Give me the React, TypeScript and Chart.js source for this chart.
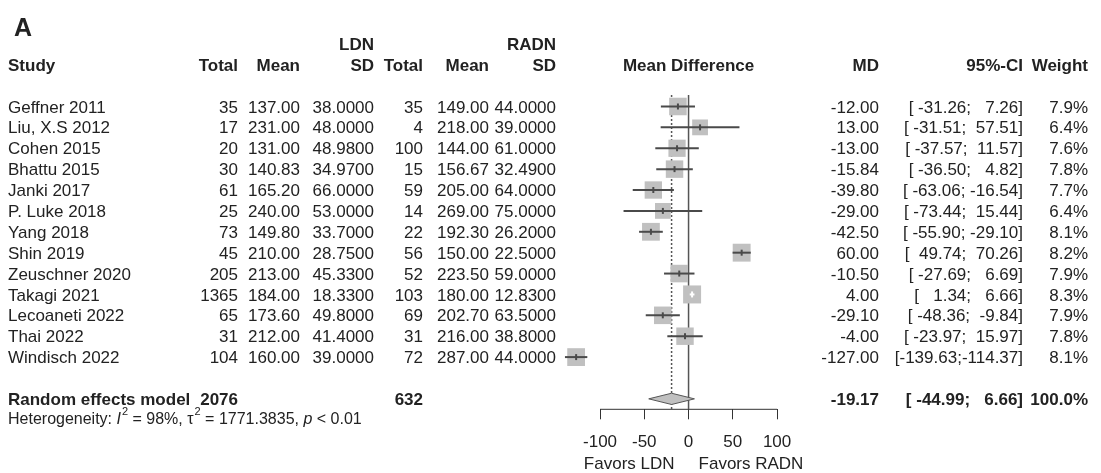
import { useEffect, useRef } from 'react';
import { Chart, registerables } from 'chart.js';

Chart.register(...registerables);

// ---------- data ----------
const studies = [
  'Geffner 2011', 'Liu, X.S 2012', 'Cohen 2015', 'Bhattu 2015', 'Janki 2017', 'P. Luke 2018',
  'Yang 2018', 'Shin 2019', 'Zeuschner 2020', 'Takagi 2021', 'Lecoaneti 2022', 'Thai 2022', 'Windisch 2022',
];
const ldnTotal = [35, 17, 20, 30, 61, 25, 73, 45, 205, 1365, 65, 31, 104];
const ldnMean = [137.0, 231.0, 131.0, 140.83, 165.2, 240.0, 149.8, 210.0, 213.0, 184.0, 173.6, 212.0, 160.0];
const ldnSD = [38.0, 48.0, 48.98, 34.97, 66.0, 53.0, 33.7, 28.75, 45.33, 18.33, 49.8, 41.4, 39.0];
const radnTotal = [35, 4, 100, 15, 59, 14, 22, 56, 52, 103, 69, 31, 72];
const radnMean = [149.0, 218.0, 144.0, 156.67, 205.0, 269.0, 192.3, 150.0, 223.5, 180.0, 202.7, 216.0, 287.0];
const radnSD = [44.0, 39.0, 61.0, 32.49, 64.0, 75.0, 26.2, 22.5, 59.0, 12.83, 63.5, 38.8, 44.0];
const md = [-12.0, 13.0, -13.0, -15.84, -39.8, -29.0, -42.5, 60.0, -10.5, 4.0, -29.1, -4.0, -127.0];
const ciLow = [-31.26, -31.51, -37.57, -36.5, -63.06, -73.44, -55.9, 49.74, -27.69, 1.34, -48.36, -23.97, -139.63];
const ciHigh = [7.26, 57.51, 11.57, 4.82, -16.54, 15.44, -29.1, 70.26, 6.69, 6.66, -9.84, 15.97, -114.37];
const weight = [7.9, 6.4, 7.6, 7.8, 7.7, 6.4, 8.1, 8.2, 7.9, 8.3, 7.9, 7.8, 8.1];

const summaryLabel = 'Random effects model';
const summaryTotals = [2076, 632];
const summaryMD = -19.17;
const summaryLow = -44.99;
const summaryHigh = 6.66;
const summaryWeight = 100.0;
const hetI2 = '98%';
const hetTau2 = '1771.3835';
const hetP = '< 0.01';

const groupLabels = ['LDN', 'RADN'];
const columnHeaders = ['Total', 'Mean', 'SD', 'Total', 'Mean', 'SD'];
const axisTicks = [-100, -50, 0, 50, 100];
const favorLabels = ['Favors LDN', 'Favors RADN'];
const panelLetter = 'A';

// ---------- layout / style ----------
const FONT = "'Liberation Sans', Arial, Helvetica, sans-serif";
const TEXT = '#222';
const DARK = '#4a4a4a';
const BOX = '#c0c0c0';
const FS = 17;
const SUMMARY_ROW = studies.length + 1;
const Y_MIN = -0.55;
const Y_MAX = 14.5;
const X_MIN = -145;
const X_MAX = 125;
const leftCols = [238, 300, 374, 423, 489, 556];
const MD_X = 879;
const CI_X = 1023;
const W_X = 1088;
const BOX_MAX = 18;

const maxW = Math.max(...weight);
const boxSide = (i: number) => BOX_MAX * Math.sqrt(weight[i] / maxW);
const fmtCI = (lo: number, hi: number) => `[${lo.toFixed(2).padStart(7)};${hi.toFixed(2).padStart(7)}]`;

const ciInside = (chart: any, i: number) => {
  const xs = chart.scales.x;
  if (!xs) return false;
  return xs.getPixelForValue(ciHigh[i]) - xs.getPixelForValue(ciLow[i]) < boxSide(i);
};

const tablePlugin = {
  id: 'forestTable',
  afterDraw(chart: any) {
    const ctx = chart.ctx as CanvasRenderingContext2D;
    const ys = chart.scales.y;
    const xs = chart.scales.x;
    const rowY = (i: number) => ys.getPixelForValue(i);
    ctx.save();
    ctx.fillStyle = TEXT;
    const txt = (s: string, x: number, yc: number, align: CanvasTextAlign, bold = false, size = FS, italic = false) => {
      ctx.font = `${italic ? 'italic ' : ''}${bold ? 'bold ' : ''}${size}px ${FONT}`;
      ctx.textAlign = align;
      ctx.textBaseline = 'alphabetic';
      ctx.fillText(s, x, yc + size * 0.358);
      return ctx.measureText(s).width;
    };

    // panel letter
    txt(panelLetter, 14, rowY(-3.8), 'left', true, 25);

    // group labels
    txt(groupLabels[0], leftCols[2], rowY(-3), 'right', true);
    txt(groupLabels[1], leftCols[5], rowY(-3), 'right', true);

    // column headers
    const hy = rowY(-2);
    txt('Study', 8, hy, 'left', true);
    columnHeaders.forEach((h, k) => txt(h, leftCols[k], hy, 'right', true));
    txt('Mean Difference', xs.getPixelForValue(0), hy, 'center', true);
    txt('MD', MD_X, hy, 'right', true);
    txt('95%-CI', CI_X, hy, 'right', true);
    txt('Weight', W_X, hy, 'right', true);

    // study rows
    studies.forEach((s, i) => {
      const y = rowY(i);
      txt(s, 8, y, 'left');
      txt(String(ldnTotal[i]), leftCols[0], y, 'right');
      txt(ldnMean[i].toFixed(2), leftCols[1], y, 'right');
      txt(ldnSD[i].toFixed(4), leftCols[2], y, 'right');
      txt(String(radnTotal[i]), leftCols[3], y, 'right');
      txt(radnMean[i].toFixed(2), leftCols[4], y, 'right');
      txt(radnSD[i].toFixed(4), leftCols[5], y, 'right');
      txt(md[i].toFixed(2), MD_X, y, 'right');
      txt(fmtCI(ciLow[i], ciHigh[i]), CI_X, y, 'right');
      txt(`${weight[i].toFixed(1)}%`, W_X, y, 'right');
    });

    // summary row
    const sy = rowY(SUMMARY_ROW);
    txt(summaryLabel, 8, sy, 'left', true);
    txt(String(summaryTotals[0]), leftCols[0], sy, 'right', true);
    txt(String(summaryTotals[1]), leftCols[3], sy, 'right', true);
    txt(summaryMD.toFixed(2), MD_X, sy, 'right', true);
    txt(fmtCI(summaryLow, summaryHigh), CI_X, sy, 'right', true);
    txt(`${summaryWeight.toFixed(1)}%`, W_X, sy, 'right', true);

    // heterogeneity
    const hy2 = rowY(SUMMARY_ROW + 0.93);
    const HS = 16;
    const SUP = 11;
    let x = 8;
    x += txt('Heterogeneity: ', x, hy2, 'left', false, HS);
    x += txt('I', x, hy2, 'left', false, HS, true);
    x += txt('2', x + 1, hy2 - 7, 'left', false, SUP) + 1;
    x += txt(` = ${hetI2}, `, x, hy2, 'left', false, HS);
    x += txt('\u03C4', x, hy2, 'left', false, HS);
    x += txt('2', x + 1, hy2 - 7, 'left', false, SUP) + 1;
    x += txt(` = ${hetTau2}, `, x, hy2, 'left', false, HS);
    x += txt('p', x, hy2, 'left', false, HS, true);
    txt(` ${hetP}`, x, hy2, 'left', false, HS);

    // favors labels
    const fy = 463;
    const x0 = xs.getPixelForValue(0);
    txt(favorLabels[0], x0 - 14, fy, 'right');
    txt(favorLabels[1], x0 + 10, fy, 'left');
    ctx.restore();
  },
};

export default function App() {
  const ref = useRef<HTMLCanvasElement | null>(null);

  useEffect(() => {
    document.body.style.margin = '0';
    if (!ref.current) return;

    const rows = studies.map((_, i) => i);

    const marks = {
      type: 'scatter',
      data: md.map((m, i) => ({ x: m, y: i })),
      pointStyle: 'line',
      rotation: 90,
      pointRadius: 3,
      pointBorderWidth: 2,
      pointBorderColor: (c: any) => (ciInside(c.chart, c.dataIndex) ? '#ffffff' : DARK),
      clip: false,
    };

    const ciLines = rows.map((i) => ({
      type: 'line',
      data: [{ x: ciLow[i], y: i }, { x: ciHigh[i], y: i }],
      borderColor: (c: any) => (ciInside(c.chart, i) ? '#ffffff' : DARK),
      borderWidth: 2,
      pointRadius: 0,
      fill: false,
      clip: false,
    }));

    const boxes = {
      type: 'scatter',
      data: md.map((m, i) => ({ x: m, y: i })),
      pointStyle: 'rect',
      pointRadius: (c: any) => boxSide(c.dataIndex) / (2 * Math.SQRT1_2),
      pointBackgroundColor: BOX,
      pointBorderWidth: 0,
      pointBorderColor: BOX,
      clip: false,
    };

    const dh = 0.27;
    const diamond = {
      type: 'line',
      data: [
        { x: summaryLow, y: SUMMARY_ROW },
        { x: summaryMD, y: SUMMARY_ROW - dh },
        { x: summaryHigh, y: SUMMARY_ROW },
        { x: summaryMD, y: SUMMARY_ROW + dh },
        { x: summaryLow, y: SUMMARY_ROW },
      ],
      borderColor: '#555',
      borderWidth: 1,
      backgroundColor: BOX,
      fill: 'shape',
      pointRadius: 0,
      tension: 0,
      clip: false,
    };

    const zeroLine = {
      type: 'line',
      data: [{ x: 0, y: Y_MIN }, { x: 0, y: Y_MAX }],
      borderColor: '#555',
      borderWidth: 1.5,
      pointRadius: 0,
      clip: false,
    };

    const summaryLine = {
      type: 'line',
      data: [{ x: summaryMD, y: Y_MIN }, { x: summaryMD, y: Y_MAX }],
      borderColor: '#555',
      borderWidth: 1.5,
      borderDash: [2, 2],
      pointRadius: 0,
      clip: false,
    };

    const axisLine = {
      type: 'line',
      data: [
        { x: axisTicks[0], y: Y_MAX },
        { x: axisTicks[axisTicks.length - 1], y: Y_MAX },
      ],
      borderColor: '#333',
      borderWidth: 1,
      pointRadius: 0,
      clip: false,
    };

    const chart = new Chart(ref.current, {
      type: 'scatter',
      data: {
        datasets: [marks, ...ciLines, boxes, diamond, summaryLine, zeroLine, axisLine] as any,
      },
      options: {
        animation: false,
        responsive: true,
        maintainAspectRatio: false,
        layout: { padding: { left: 560.2, right: 301.8, top: 95, bottom: 23.7 } },
        plugins: { legend: { display: false }, tooltip: { enabled: false } },
        events: [],
        scales: {
          x: {
            type: 'linear',
            min: X_MIN,
            max: X_MAX,
            afterBuildTicks: (s: any) => {
              s.ticks = axisTicks.map((v) => ({ value: v }));
            },
            afterFit: (s: any) => {
              s.height = 40;
            },
            ticks: {
              color: TEXT,
              font: { family: FONT, size: FS },
              padding: 13,
              maxRotation: 0,
              autoSkip: false,
            },
            grid: {
              display: true,
              drawOnChartArea: false,
              drawTicks: true,
              tickLength: 10,
              color: '#333',
              lineWidth: 1,
            },
            border: { display: false },
          },
          y: {
            type: 'linear',
            display: false,
            reverse: true,
            min: Y_MIN,
            max: Y_MAX,
          },
        },
      } as any,
      plugins: [tablePlugin],
    });

    return () => chart.destroy();
  }, []);

  return (
    <div style={{ width: '1101px', height: '473px', position: 'relative', background: '#fff' }}>
      <canvas ref={ref} />
    </div>
  );
}
